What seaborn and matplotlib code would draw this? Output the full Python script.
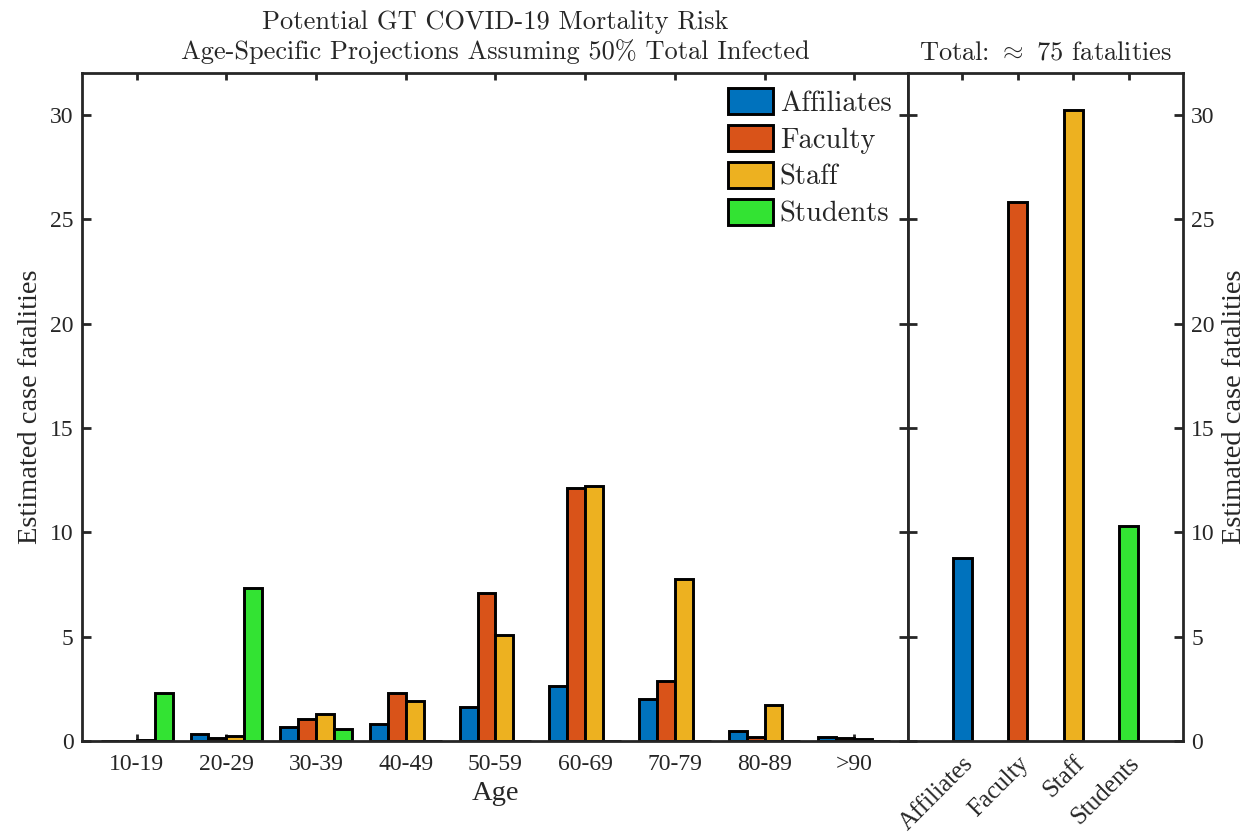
import matplotlib
matplotlib.use("Agg")
import matplotlib.pyplot as plt
from matplotlib.patches import Patch
import seaborn as sns
import pandas as pd

# ---- data ----
ages = ["10-19", "20-29", "30-39", "40-49", "50-59", "60-69", "70-79", "80-89", ">90"]
groups = ["Affiliates", "Faculty", "Staff", "Students"]
affiliates = [0.02, 0.35, 0.67, 0.83, 1.65, 2.64, 2.03, 0.48, 0.20]
faculty = [0.02, 0.16, 1.07, 2.28, 7.09, 12.12, 2.87, 0.20, 0.12]
staff = [0.05, 0.24, 1.28, 1.92, 5.08, 12.20, 7.78, 1.72, 0.10]
students = [2.30, 7.35, 0.59, 0.0, 0.0, 0.0, 0.0, 0.0, 0.0]
totals = [8.78, 25.80, 30.25, 10.32]
colors = ["#0072BD", "#D95319", "#EDB120", "#33E333"]
yticks = [0, 5, 10, 15, 20, 25, 30]

sns.set_style("white")
plt.rcParams["font.family"] = ["Liberation Serif", "DejaVu Serif"]
plt.rcParams["mathtext.fontset"] = "cm"

AX_COL = "#262626"
TICK_FS = 17
LAB_FS = 20.5
TITLE_FS = 19
EDGE_LW = 2.1

rows = []
for g, vals in zip(groups, [affiliates, faculty, staff, students]):
    for a, v in zip(ages, vals):
        rows.append({"Age": a, "Group": g, "Value": v})
df = pd.DataFrame(rows)
df_tot = pd.DataFrame({"Group": groups, "Value": totals})

fig = plt.figure(figsize=(12.49, 8.35), dpi=100)
W, H = 1249, 835
ax1 = fig.add_axes([82 / W, (H - 741) / H, 826 / W, 668 / H])
ax2 = fig.add_axes([908 / W, (H - 741) / H, 275 / W, 668 / H])

sns.barplot(data=df, x="Age", y="Value", hue="Group", order=ages, hue_order=groups,
            palette=colors, saturation=1, errorbar=None, width=0.8,
            edgecolor="black", linewidth=EDGE_LW, legend=False, ax=ax1)
sns.barplot(data=df_tot, x="Group", y="Value", hue="Group", order=groups, hue_order=groups,
            palette=colors, saturation=1, errorbar=None, width=0.34, dodge=False,
            edgecolor="black", linewidth=EDGE_LW, legend=False, ax=ax2)

for ax in (ax1, ax2):
    ax.set_ylim(0, 32)
    ax.set_yticks(yticks)
    for s in ax.spines.values():
        s.set_visible(True)
        s.set_color(AX_COL)
        s.set_linewidth(2.0)
    ax.tick_params(axis="both", direction="in", colors=AX_COL, width=2.0,
                   labelsize=TICK_FS, labelcolor="#262626")
    ax.tick_params(axis="x", length=5, top=True, bottom=True)
    ax.tick_params(axis="y", length=6.5, left=True, right=True)
    ax.set_xlabel("")
    ax.set_ylabel("")

ax1.set_xlim(-0.61, 8.6)
ax1.tick_params(axis="y", labelleft=True, labelright=False, pad=6)
ax1.tick_params(axis="x", pad=9)
ax1.set_xlabel("Age", fontsize=LAB_FS, color="#262626", labelpad=5)
ax1.set_ylabel("Estimated case fatalities", fontsize=LAB_FS, color="#262626", labelpad=5)

ax2.set_xlim(-0.98, 3.98)
ax2.tick_params(axis="y", labelleft=False, labelright=True, pad=6)
ax2.yaxis.set_label_position("right")
ax2.set_ylabel("Estimated case fatalities", fontsize=LAB_FS, color="#262626", labelpad=5)
ax2.set_xticks(range(len(groups)))
ax2.set_xticklabels(groups, rotation=45, ha="right", rotation_mode="anchor", fontsize=18)
ax2.tick_params(axis="x", pad=8)

# titles (Computer Modern)
ax1.set_title("Potential GT COVID-19 Mortality Risk\nAge-Specific Projections Assuming 50% Total Infected",
              fontfamily="cmr10", fontsize=TITLE_FS, color="#262626", pad=10, linespacing=1.25)
ax2.set_title("Total: $\\approx$ 75 fatalities", fontfamily="cmr10", fontsize=TITLE_FS,
              color="#262626", pad=10)

handles = [Patch(facecolor=c, edgecolor="black", linewidth=EDGE_LW) for c in colors]
ax1.legend(handles, groups, loc="upper right", bbox_to_anchor=(0.98, 0.977),
           frameon=False, borderpad=0, borderaxespad=0,
           prop={"family": "cmr10", "size": 20.5},
           handlelength=1.6, handleheight=1.0, handletextpad=0.22, labelspacing=0.3)

fig.savefig("out.png", dpi=100)
